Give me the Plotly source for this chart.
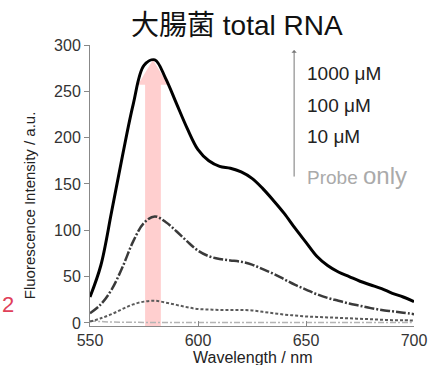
import plotly.graph_objects as go

wavelength = list(range(550, 705, 5))

conc_1000 = [28, 62, 120, 180, 236, 278, 284, 264, 237, 210, 187, 175, 169, 167, 163, 156,
             145, 132, 118, 102, 87, 72, 62, 55, 50, 45, 41, 37, 32, 28, 23]
conc_100 = [10.5, 20, 36, 60, 88, 108, 115, 109, 99, 88, 78, 72, 69, 67.5, 66, 63,
            58, 53, 47, 41, 36, 31, 27, 24, 21, 18.5, 16, 14, 12.5, 11, 9.5]
conc_10 = [1.5, 5, 9.5, 15, 20, 23, 24, 22, 19.5, 17, 15, 14.5, 14, 14, 14, 13.5,
           12, 10.5, 9, 8, 7, 6.5, 6, 5.5, 5, 4.5, 4, 3.5, 3, 3, 2.5]
probe_only = [2, 1.5, 1, 0.8, 0.7, 0.6, 0.6, 0.6, 0.6, 0.6, 0.5, 0.5, 0.5, 0.5, 0.5, 0.5,
              0.5, 0.5, 0.5, 0.5, 0.5, 0.5, 0.5, 0.5, 0.5, 0.5, 0.5, 0.5, 0.5, 0.5, 0.5]

x_ticks = [550, 600, 650, 700]
y_ticks = [0, 50, 100, 150, 200, 250, 300]

# pink arrow (data coordinates)
arrow_shaft = (575.5, 582.8)
arrow_head = (572.2, 586.1, 257, 284)

FONT = "Liberation Sans, Arial, Noto Sans CJK JP, sans-serif"

fig = go.Figure()

fig.add_trace(go.Scatter(x=wavelength, y=probe_only, mode="lines",
                         line=dict(color="#b4b4b4", width=1.5, dash="6px,2px,2px,2px", shape="spline")))
fig.add_trace(go.Scatter(x=wavelength, y=conc_10, mode="lines",
                         line=dict(color="#5a5a5a", width=2, dash="3px,2px", shape="spline")))
fig.add_trace(go.Scatter(x=wavelength, y=conc_100, mode="lines",
                         line=dict(color="#3a3a3a", width=2.5, dash="10px,2px,2px,2px", shape="spline")))
fig.add_trace(go.Scatter(x=wavelength, y=conc_1000, mode="lines",
                         line=dict(color="black", width=3, shape="spline")))

sx0, sx1 = arrow_shaft
hx0, hx1, hy0, hy1 = arrow_head
path = (f"M {sx0} -3.3 L {sx0} {hy0} L {hx0} {hy0} L {(sx0 + sx1) / 2} {hy1} "
        f"L {hx1} {hy0} L {sx1} {hy0} L {sx1} -3.3 Z")
fig.add_shape(type="path", path=path, xref="x", yref="y", layer="below",
              fillcolor="rgba(255,195,195,0.8)", line=dict(width=0))

fig.update_layout(
    width=430, height=365,
    margin=dict(l=90, r=16, t=45, b=39),
    paper_bgcolor="white", plot_bgcolor="white",
    showlegend=False,
    font=dict(family=FONT, color="#333333"),
)
fig.update_xaxes(range=[550, 700], tickvals=x_ticks, ticks="inside", ticklen=5,
                 tickcolor="#888888", showline=True, linecolor="#888888", linewidth=1,
                 showgrid=False, zeroline=False, tickfont=dict(size=16, color="#333333"),
                 automargin=False)
fig.update_yaxes(range=[-3.3, 300], tickvals=y_ticks, ticks="outside", ticklen=5,
                 tickcolor="#888888", showline=True, linecolor="#888888", linewidth=1,
                 showgrid=False, zeroline=False, tickfont=dict(size=16, color="#333333"),
                 automargin=False)

ann = [
    dict(text="大腸菌 total RNA", x=0.454, y=1.068, font=dict(size=28, color="#111111"),
         xanchor="center", yanchor="middle"),
    dict(text="Fluorescence Intensity / a.u.", x=-0.188, y=0.43, textangle=-90,
         font=dict(size=15, color="#222222"), xanchor="center", yanchor="middle"),
    dict(text="Wavelength / nm", x=0.5, y=-0.113, font=dict(size=16, color="#222222"),
         xanchor="center", yanchor="middle"),
    dict(text="1000 μM", x=0.664, y=0.900, font=dict(size=19, color="#222222"),
         xanchor="left", yanchor="middle"),
    dict(text="100 μM", x=0.664, y=0.786, font=dict(size=19, color="#222222"),
         xanchor="left", yanchor="middle"),
    dict(text="10 μM", x=0.664, y=0.673, font=dict(size=19, color="#222222"),
         xanchor="left", yanchor="middle"),
    dict(text="<span style='font-size:19px'>Probe</span> <span style='font-size:24px'>only</span>",
         x=0.664, y=0.534, font=dict(size=19, color="#aaaaaa"),
         xanchor="left", yanchor="middle"),
    dict(text="2", x=-0.278, y=0.075, font=dict(size=22, color="#e0405a"),
         xanchor="left", yanchor="middle"),
]
for a in ann:
    a.update(xref="paper", yref="paper", showarrow=False)
    fig.add_annotation(**a)

fig.add_annotation(x=0.63, y=0.982, xref="paper", yref="paper", ax=0, ay=128,
                   axref="pixel", ayref="pixel", showarrow=True, arrowhead=1, arrowsize=0.9,
                   arrowwidth=1, arrowcolor="#777777", text="")

fig.write_html("out.html", config={"displayModeBar": False},
               post_script="document.body.style.margin='0';document.body.style.overflow='hidden';")
